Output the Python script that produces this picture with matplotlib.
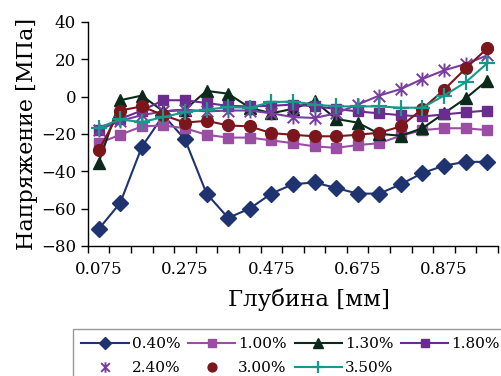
import numpy as np
import matplotlib.pyplot as plt
from matplotlib.path import Path

plt.rcParams['font.family'] = ['DejaVu Serif']

# depth categories, mm
depth = [0.075, 0.125, 0.175, 0.225, 0.275, 0.325, 0.375, 0.425, 0.475, 0.525,
         0.575, 0.625, 0.675, 0.725, 0.775, 0.825, 0.875, 0.925, 0.975]

s040 = [-71, -57, -27, -10, -23, -52, -65, -60, -52, -47, -46, -49, -52, -52, -47, -41, -37, -35, -35]
s100 = [-25, -20.5, -16, -15.5, -17, -20.5, -22, -22, -23.5, -25, -26.7, -27.5, -26, -25, -21, -18, -17, -17, -18]
s130 = [-35.5, -2, 0.5, -8, -7, 3, 1.5, -6, -9, -6.6, -2.5, -12, -14, -20, -21, -17, -9, -1, 8.5]
s180 = [-18, -12, -7.5, -2, -2, -3.5, -5, -5.3, -5, -4.3, -5.3, -6.6, -8, -9, -10, -10.7, -9.6, -8.5, -7.5]
s240 = [-18, -13, -10, -8, -7, -8, -7.5, -7.5, -9, -11, -11.5, -9, -4.3, 0.5, 4, 9.4, 14, 17.4, 22]
s300 = [-28.8, -7.5, -5.3, -10, -14, -13, -15.5, -16, -19.6, -20.5, -21.3, -21.3, -20.5, -19.4, -16, -6.6, 3.6, 15, 25.8]
s350 = [-16.7, -12.3, -13.7, -11, -8.4, -7, -5.7, -6, -3, -2.7, -4.3, -5.3, -5.3, -5.3, -6, -6, 0.5, 7.6, 17.8]

labels = ['0.40%', '1.00%', '1.30%', '1.80%', '2.40%', '3.00%', '3.50%']
tick_text = ['0.075', '0.275', '0.475', '0.675', '0.875']

# excel-like star marker: an x with a vertical stroke
star = Path([(-1, -1), (1, 1), (-1, 1), (1, -1), (0, -1.2), (0, 1.2)],
            [Path.MOVETO, Path.LINETO, Path.MOVETO, Path.LINETO, Path.MOVETO, Path.LINETO])

fig = plt.figure(figsize=(5.02, 3.76), dpi=100)
ax = fig.add_axes([0.175, 0.346, 0.817, 0.596])

x = np.arange(len(depth))
h = []
h += ax.plot(x, s040, color='#1e3370', lw=1.5, marker='D', ms=8, label=labels[0])
h += ax.plot(x, s100, color='#9a4ea3', lw=1.5, marker='s', ms=7.5, label=labels[1])
h += ax.plot(x, s130, color='#0c2a1b', lw=1.5, marker='^', ms=9, label=labels[2])
h += ax.plot(x, s180, color='#6a2d8f', lw=1.5, marker='s', ms=7.5, label=labels[3])
ax.plot(x, s240, color='#7a3d9f', lw=1.5)
h += ax.plot(x, s240, color='#7a3d9f', ls='none', marker=star, ms=10, mew=1.4, label=labels[4])
ax.plot(x, s300, color='#7b171c', lw=1.5)
h += ax.plot(x, s300, color='#7b171c', ls='none', marker='o', ms=8.5, label=labels[5])
h += ax.plot(x, s350, color='#16998a', lw=1.5, marker='+', ms=11, mew=1.6, label=labels[6])

ax.set_xlim(-0.5, len(depth) - 0.5)
ax.set_ylim(-80, 40)
ax.set_yticks(np.arange(-80, 41, 20))
ax.set_xticks(np.arange(-0.5, len(depth), 1))
ax.set_xticklabels([])
ax.set_xticks([0, 4, 8, 12, 16], minor=True)
ax.set_xticklabels(tick_text, minor=True)
ax.tick_params(axis='x', which='minor', length=0, pad=11, labelsize=12)
ax.tick_params(axis='x', which='major', length=5, width=1)
ax.tick_params(axis='y', length=5, width=1, labelsize=12)
for side in ['top', 'right']:
    ax.spines[side].set_visible(False)
for side in ['left', 'bottom']:
    ax.spines[side].set_linewidth(1)

ax.set_xlabel('Глубина [мм]', fontsize=16.5)
ax.xaxis.set_label_coords(0.539, -0.19)
ax.set_ylabel('Напряжение [МПа]', fontsize=16, labelpad=2)

order = [0, 4, 1, 5, 2, 6, 3]
leg = fig.legend([h[i] for i in order], [labels[i] for i in order], ncol=4,
                 loc='upper left', bbox_to_anchor=(0.145, 0.125), fontsize=11,
                 handlelength=3.1, handletextpad=0.2, columnspacing=0.5,
                 labelspacing=0.65, borderpad=0.55, frameon=True, fancybox=False,
                 borderaxespad=0, markerscale=0.75)
leg.get_frame().set_edgecolor('#7f7f7f')
leg.get_frame().set_linewidth(1)

fig.savefig('out.png', dpi=100)
